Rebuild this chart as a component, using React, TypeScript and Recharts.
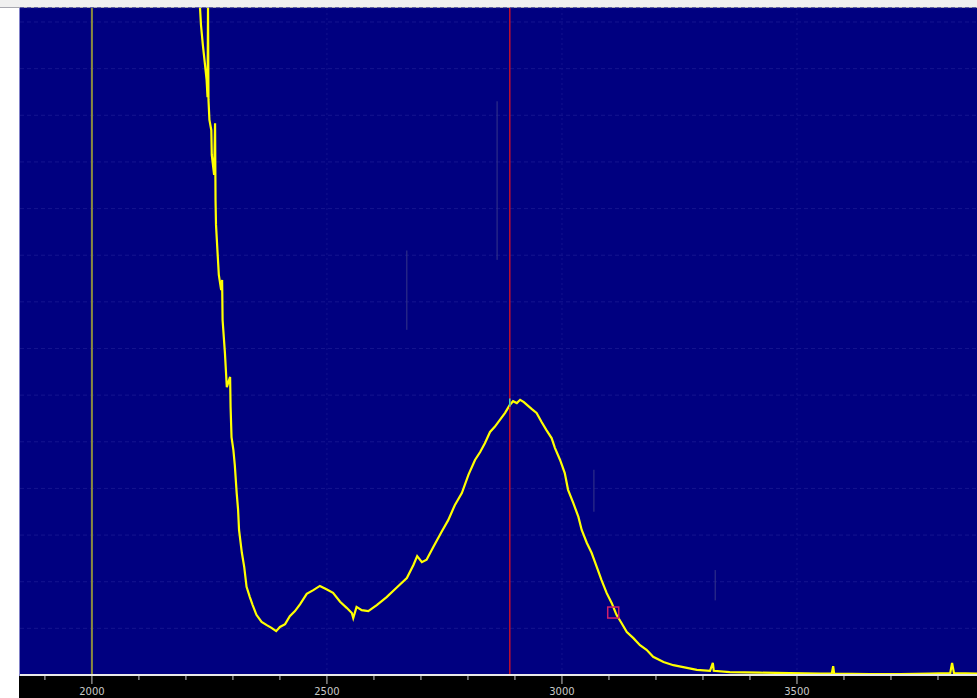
import React from "react"
import { LineChart, Line, XAxis, YAxis, CartesianGrid, ReferenceLine, ReferenceDot } from "recharts"

// wavenumber (x) and intensity (y, in tenths of a grid division)
const wavenumbers = [
  2226, 2230, 2232, 2236, 2240, 2244, 2246, 2247, 2248, 2250, 2254, 2255, 2260, 2262, 2263, 2264,
  2267, 2270, 2275, 2277, 2278, 2283, 2287, 2294, 2295, 2297, 2301, 2304, 2308, 2311, 2313, 2319,
  2324, 2329, 2336, 2342, 2350, 2361, 2372, 2382, 2392, 2400, 2411, 2421, 2432, 2443, 2457, 2471,
  2485, 2499, 2513, 2528, 2542, 2553, 2556, 2563, 2574, 2588, 2606, 2627, 2648, 2670, 2684, 2692,
  2702, 2712, 2726, 2744, 2758, 2772, 2787, 2801, 2815, 2826, 2836, 2847, 2857, 2868, 2879, 2889,
  2896, 2904, 2911, 2919, 2928, 2936, 2946, 2957, 2967, 2978, 2985, 2996, 3006, 3013, 3024, 3035,
  3042, 3053, 3063, 3074, 3084, 3095, 3106, 3116, 3127, 3138, 3152, 3166, 3180, 3194, 3216, 3237,
  3258, 3287, 3315, 3321, 3323, 3357, 3421, 3485, 3549, 3574, 3577, 3579, 3655, 3719, 3783, 3826,
  3830, 3834, 3883,
]
const intensity = [
  146.9, 143.0, 139.4, 135.1, 131.4, 127.6, 123.9, 143.0, 123.3, 119.0, 116.8, 111.5, 107.2, 118.3, 101.8, 96.5,
  91.1, 85.8, 82.5, 84.7, 76.1, 69.0, 61.7, 63.9, 57.5, 51.0, 48.2, 45.0, 39.0, 35.4, 31.1, 26.2,
  23.2, 18.9, 16.7, 15.0, 12.9, 11.4, 10.7, 10.1, 9.4, 10.3, 10.9, 12.6, 13.7, 15.2, 17.4, 18.2,
  19.1, 18.4, 17.6, 15.7, 14.4, 13.3, 12.2, 14.6, 13.9, 13.7, 15.0, 16.7, 18.7, 20.8, 23.6, 25.5,
  24.2, 24.7, 27.4, 30.7, 33.2, 36.4, 39.0, 42.9, 46.1, 47.8, 49.7, 52.1, 53.2, 54.7, 56.2, 57.9,
  58.7, 58.3, 59.0, 58.5, 57.7, 57.0, 56.2, 54.2, 52.5, 50.8, 48.7, 46.1, 43.3, 39.7, 36.9, 33.9,
  31.1, 28.3, 26.2, 23.2, 20.4, 17.6, 15.4, 12.9, 11.1, 9.2, 7.9, 6.4, 5.4, 3.9, 2.8, 2.1,
  1.7, 1.1, 0.9, 2.6, 0.9, 0.6, 0.5, 0.4, 0.3, 0.3, 1.9, 0.3, 0.2, 0.2, 0.3, 0.4,
  2.6, 0.4, 0.3,
]

const xTicks = [1900, 2000, 2100, 2200, 2300, 2400, 2500, 2600, 2700, 2800, 2900, 3000, 3100, 3200, 3300, 3400, 3500, 3600, 3700, 3800]
const yTicks = [0, 10, 20, 30, 40, 50, 60, 70, 80, 90, 100, 110, 120, 130, 140]
const majorEvery = 500

const cursorX = 2889
const baseX = 2000
const markerX = 3108
const markerY = 13.5
// faint glitch streaks: [x, yFrom, yTo]
const streaks = [
  [2670, 74, 91],
  [2862, 89, 123],
  [3068, 35, 44],
  [3326, 16, 22.5],
]

const data = wavenumbers.map((x, i) => ({ x, y: intensity[i] }))

const Tick = (props: any) => {
  const { x, y, payload } = props
  const major = payload.value % majorEvery === 0
  return (
    <g>
      <line x1={x} x2={x} y1={y + 1} y2={y + (major ? 9 : 5)} stroke="#c8c8c8" strokeWidth={1} />
      {major && (
        <text x={x} y={y + 20} textAnchor="middle" fill="#c8c8c8" fontSize={10} fontFamily="DejaVu Sans">
          {payload.value}
        </text>
      )}
    </g>
  )
}

const Square = (props: any) => (
  <rect x={props.cx - 5} y={props.cy - 5} width={11} height={11} fill="none" stroke="#d0206a" strokeWidth={1.5} />
)

export default function App() {
  return (
    <div style={{ position: "absolute", left: 0, top: 0, width: 977, height: 698, background: "#fff", overflow: "hidden" }}>
      <div style={{ position: "absolute", left: 0, top: 0, width: 977, height: 7, background: "#f0f0f0" }} />
      <div style={{ position: "absolute", left: 0, top: 7, width: 977, height: 1, background: "#a8a8b0" }} />
      <div style={{ position: "absolute", left: 19, top: 8, width: 1, height: 668, background: "#8080c8" }} />
      <div style={{ position: "absolute", left: 19, top: 676, width: 958, height: 22, background: "#000" }} />
      <div style={{ position: "absolute", left: 0, top: 0 }}>
        <LineChart width={977} height={698} data={data} margin={{ top: 8, right: 0, left: 20, bottom: 0 }}>
          <CartesianGrid vertical={false} fill="#000080" stroke="#14148e" strokeDasharray="4 3" />
          <XAxis
            dataKey="x"
            type="number"
            domain={[1847, 3883]}
            ticks={xTicks}
            interval={0}
            height={23}
            tickSize={0}
            tickMargin={0}
            tickLine={false}
            axisLine={{ stroke: "#e8e8e8", strokeWidth: 2 }}
            tick={<Tick />}
            allowDataOverflow
          />
          <YAxis hide type="number" domain={[0, 143]} ticks={yTicks} allowDataOverflow />
          {[2500, 3000, 3500].map((v) => (
            <ReferenceLine key={v} x={v} stroke="#12128c" strokeDasharray="2 3" />
          ))}
          {streaks.map(([sx, y1, y2]) => (
            <ReferenceLine key={sx} segment={[{ x: sx, y: y1 }, { x: sx, y: y2 }]} stroke="#36368a" strokeWidth={1} />
          ))}
          <ReferenceLine x={baseX} stroke="#8a8a40" strokeWidth={2} />
          <ReferenceLine segment={[{ x: 1847, y: 0 }, { x: baseX, y: 0 }]} stroke="#ffff00" strokeWidth={1.5} />
          <Line
            dataKey="y"
            type="linear"
            stroke="#ffff00"
            strokeWidth={2.2}
            dot={false}
            isAnimationActive={false}
          />
          <ReferenceLine x={cursorX} stroke="#c0102c" strokeWidth={1.5} />
          <ReferenceLine segment={[{ x: cursorX, y: 57.5 }, { x: cursorX, y: 59.3 }]} stroke="#40e0c0" strokeWidth={1.5} />
          <ReferenceDot x={markerX} y={markerY} r={5} shape={<Square />} />
        </LineChart>
      </div>
    </div>
  )
}
